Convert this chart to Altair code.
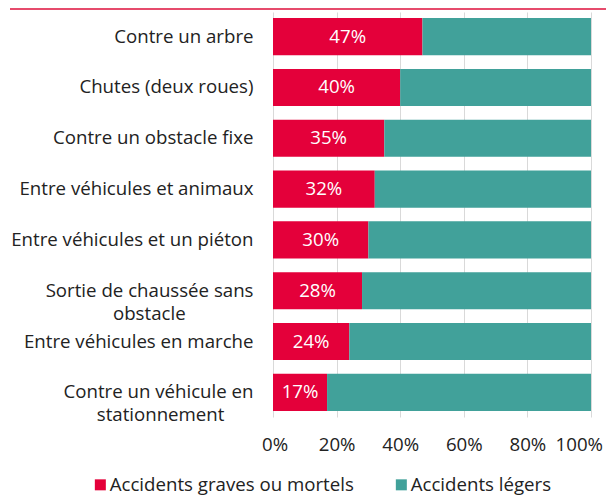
import altair as alt
import pandas as pd

categories = [
    "Contre un arbre",
    "Chutes (deux roues)",
    "Contre un obstacle fixe",
    "Entre véhicules et animaux",
    "Entre véhicules et un piéton",
    "Sortie de chaussée sans|obstacle",
    "Entre véhicules en marche",
    "Contre un véhicule en|stationnement",
]
graves = [0.47, 0.40, 0.35, 0.32, 0.30, 0.28, 0.24, 0.17]
legers = [round(1 - g, 2) for g in graves]
series = ["Accidents graves ou mortels", "Accidents légers"]
colors = ["#E4003A", "#41A19A"]

# right padding (non-breaking spaces) so that wrapped lines look centred
second_line_pad = {
    "Sortie de chaussée sans|obstacle": 14,
    "Contre un véhicule en|stationnement": 6,
}


def display(c):
    n = second_line_pad.get(c, 0)
    if "|" in c:
        a, b = c.split("|")
        return a + "|" + b + "\u00a0" * n + "\u200b"
    return c


disp = [display(c) for c in categories]

rows = []
for d, g, l in zip(disp, graves, legers):
    rows.append({"cat": d, "serie": series[0], "val": g, "ord": 0})
    rows.append({"cat": d, "serie": series[1], "val": l, "ord": 1})
df = pd.DataFrame(rows)
lab = pd.DataFrame({"cat": disp, "g": graves})

FONT = "Open Sans"
FS = 18.67
TXT = "#222222"

y_enc = alt.Y(
    "cat:N",
    sort=disp,
    title=None,
    scale=alt.Scale(paddingInner=0.27, paddingOuter=0.12),
    axis=alt.Axis(
        domain=False,
        ticks=False,
        grid=False,
        labelPadding=20,
        labelFontSize=FS,
        labelFont=FONT,
        labelColor=TXT,
        labelLineHeight=23,
        labelLimit=400,
        labelExpr="split(datum.label, '|')",
    ),
)

bars = alt.Chart(df).mark_bar().encode(
    y=y_enc,
    x=alt.X(
        "val:Q",
        stack="zero",
        title=None,
        scale=alt.Scale(domain=[0, 1], nice=False),
        axis=alt.Axis(
            format=".0%",
            values=[0, 0.2, 0.4, 0.6, 0.8, 1.0],
            domain=False,
            ticks=False,
            grid=True,
            gridColor="#d9d9d9",
            gridWidth=1,
            labelPadding=18,
            labelFontSize=FS,
            labelFont=FONT,
            labelColor=TXT,
            labelOverlap=False,
            labelFlush=True,
            labelFlushOffset=11.5,
        ),
    ),
    color=alt.Color(
        "serie:N",
        scale=alt.Scale(domain=series, range=colors),
        title=None,
        legend=alt.Legend(
            orient="none",
            direction="horizontal",
            legendX=-182,
            legendY=463,
            symbolType="square",
            symbolSize=121,
            symbolStrokeWidth=0,
            labelFontSize=FS,
            labelFont=FONT,
            labelColor=TXT,
            labelOffset=0,
            columnPadding=38,
            labelLimit=400,
            padding=0,
        ),
    ),
    order=alt.Order("ord:Q", sort="ascending"),
)

text = alt.Chart(lab).transform_calculate(mid="datum.g / 2").mark_text(
    color="white", fontSize=FS, font=FONT, baseline="middle", align="center"
).encode(
    y=alt.Y("cat:N", sort=disp),
    x=alt.X("mid:Q"),
    text=alt.Text("g:Q", format=".0%"),
)

topline = alt.Chart(lab).mark_rule(color="#E64B6C", strokeWidth=2).encode(
    x=alt.value(-263), x2=alt.value(333), y=alt.value(-3)
)

chart = alt.layer(bars, text, topline).properties(
    width=318,
    height=405,
    autosize=alt.AutoSizeParams(type="none"),
    padding={"left": 265, "top": 4, "right": 15, "bottom": 78},
).configure_view(stroke=None)

chart.save("out.html", embed_options={"renderer": "svg", "actions": False})
